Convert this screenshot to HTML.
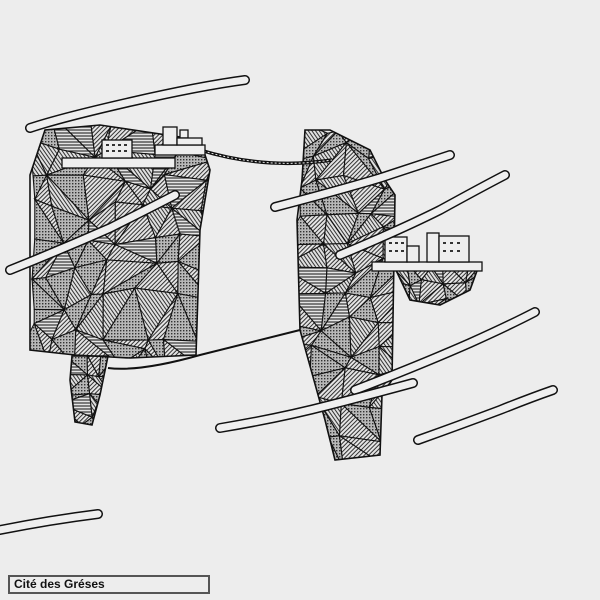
<!DOCTYPE html>
<html><head><meta charset="utf-8"><style>
html,body{margin:0;padding:0;background:#ededed;width:600px;height:600px;overflow:hidden}
#lbl{position:absolute;left:8px;top:575px;width:194px;height:15px;border:2px solid #555;font:bold 12px "Liberation Sans",sans-serif;line-height:15px;padding-left:4px;color:#111;background:#ededed}
</style></head><body>
<svg id="s" width="600" height="600" xmlns="http://www.w3.org/2000/svg" style="position:absolute;left:0;top:0">
<defs>
<pattern id="p0" width="3" height="3" patternUnits="userSpaceOnUse" patternTransform="rotate(45)"><rect width="3" height="3" fill="#e4e4e4"/><line x1="0.5" y1="0" x2="0.5" y2="3" stroke="#333" stroke-width="1"/></pattern>
<pattern id="p1" width="3" height="3" patternUnits="userSpaceOnUse"><rect width="3" height="3" fill="#e4e4e4"/><line x1="0" y1="1" x2="3" y2="1" stroke="#333" stroke-width="1.2"/></pattern>
<pattern id="p2" width="3" height="3" patternUnits="userSpaceOnUse"><rect width="3" height="3" fill="#b8b8b8"/><rect width="1.4" height="1.4" fill="#333"/></pattern>
<pattern id="p3" width="3" height="3" patternUnits="userSpaceOnUse" patternTransform="rotate(-35)"><rect width="3" height="3" fill="#e0e0e0"/><line x1="0.5" y1="0" x2="0.5" y2="3" stroke="#333" stroke-width="1"/></pattern>
<clipPath id="cL"><polygon points="30,175 45,130 100,125 200,140 210,170 200,230 196,355 130,358 75,355 30,350"/></clipPath>
<clipPath id="cL2"><polygon points="72,356 108,356 100,395 92,425 75,422 70,380"/></clipPath>
<clipPath id="cR"><polygon points="305,130 330,130 370,150 385,180 395,195 392,380 382,395 380,455 335,460 325,420 300,330 297,220 302,180"/></clipPath>
<clipPath id="cS"><polygon points="395,268 478,268 470,290 440,305 410,300"/></clipPath>
</defs>
<g id="masses"></g>
<g fill="none" stroke="#111" stroke-width="1.6">
<polygon points="30,175 45,130 100,125 200,140 210,170 200,230 196,355 130,358 75,355 30,350"/>
<polygon points="72,356 108,356 100,395 92,425 75,422 70,380"/>
<polygon points="305,130 330,130 370,150 385,180 395,195 392,380 382,395 380,455 335,460 325,420 300,330 297,220 302,180"/>
<polygon points="395,268 478,268 470,290 440,305 410,300"/>
<path d="M200,150 Q265,170 332,160" stroke-width="3.5"/>
<path d="M200,150 Q265,170 332,160" stroke="#eee" stroke-width="1" stroke-dasharray="2 2"/>
<path d="M108,368 Q140,372 200,355 Q260,340 300,330" stroke-width="2"/>
</g>
<g stroke="#111" stroke-width="1.3" fill="#eee">
<rect x="62" y="158" width="113" height="10"/>
<rect x="155" y="145" width="50" height="10"/>
<rect x="102" y="140" width="30" height="18"/>
<rect x="163" y="127" width="14" height="18"/>
<rect x="180" y="130" width="8" height="8"/>
<rect x="177" y="138" width="25" height="7"/>
<rect x="372" y="262" width="110" height="9"/>
<rect x="385" y="237" width="22" height="25"/>
<rect x="427" y="233" width="12" height="29"/>
<rect x="439" y="236" width="30" height="26"/>
<rect x="407" y="246" width="12" height="16"/>
</g>
<g fill="#333">
<rect x="106" y="144" width="3" height="2"/><rect x="112" y="144" width="3" height="2"/><rect x="118" y="144" width="3" height="2"/><rect x="124" y="144" width="3" height="2"/>
<rect x="106" y="150" width="3" height="2"/><rect x="112" y="150" width="3" height="2"/><rect x="118" y="150" width="3" height="2"/><rect x="124" y="150" width="3" height="2"/>
<rect x="389" y="242" width="3" height="2"/><rect x="395" y="242" width="3" height="2"/><rect x="401" y="242" width="3" height="2"/>
<rect x="389" y="250" width="3" height="2"/><rect x="395" y="250" width="3" height="2"/><rect x="401" y="250" width="3" height="2"/>
<rect x="443" y="242" width="3" height="2"/><rect x="450" y="242" width="3" height="2"/><rect x="457" y="242" width="3" height="2"/>
<rect x="443" y="250" width="3" height="2"/><rect x="450" y="250" width="3" height="2"/><rect x="457" y="250" width="3" height="2"/>
</g>
<g id="clouds"></g>
</svg>
<div id="lbl">Cité des Gréses</div>
<script>
var seed=7;function r(){seed=(seed*16807)%2147483647;return seed/2147483647;}
var NS="http://www.w3.org/2000/svg",M=document.getElementById('masses');
function el(n,a,p){var e=document.createElementNS(NS,n);for(var k in a)e.setAttribute(k,a[k]);(p||M).appendChild(e);return e;}
function mass(clip,x0,y0,x1,y1,step){
 var g=el('g',{'clip-path':'url(#'+clip+')'});
 var cols=Math.ceil((x1-x0)/step)+1,rows=Math.ceil((y1-y0)/step)+1,P=[];
 for(var j=0;j<rows;j++){P[j]=[];for(var i=0;i<cols;i++)P[j][i]=[x0+i*step+(r()-.5)*step*.8,y0+j*step+(r()-.5)*step*.8];}
 var pats=['p0','p1','p2','p3','p2','p0'];
 for(var j=0;j<rows-1;j++)for(var i=0;i<cols-1;i++){
  var a=P[j][i],b=P[j][i+1],c=P[j+1][i],d=P[j+1][i+1];
  var tris=r()<.5?[[a,b,d],[a,d,c]]:[[a,b,c],[b,d,c]];
  tris.forEach(function(t){el('polygon',{points:t.map(function(p){return p.join(',')}).join(' '),fill:'url(#'+pats[Math.floor(r()*pats.length)]+')',stroke:'#111','stroke-width':'1.1'},g);});
 }
}
mass('cL',25,120,215,365,30);
mass('cL2',65,350,112,430,20);
mass('cR',292,125,400,465,28);
mass('cS',390,262,482,310,18);
var C=document.getElementById('clouds');
[["M30,128 Q60,118 130,102 Q200,86 245,80"],["M10,270 Q60,250 110,228 Q150,208 175,195"],["M275,207 Q340,190 380,178 Q420,165 450,155"],["M340,255 Q400,230 440,210 Q480,188 505,175"],["M355,390 Q420,365 470,343 Q510,325 535,312"],["M220,428 Q280,418 330,405 Q380,392 413,383"],["M418,440 Q460,425 500,410 Q530,398 553,390"],["M0,530 Q50,520 98,514"]].forEach(function(c){
 el('path',{d:c[0],fill:'none',stroke:'#111','stroke-width':'10','stroke-linecap':'round'},C);
 el('path',{d:c[0],fill:'none',stroke:'#efefef','stroke-width':'7','stroke-linecap':'round'},C);
});
</script>
</body></html>
